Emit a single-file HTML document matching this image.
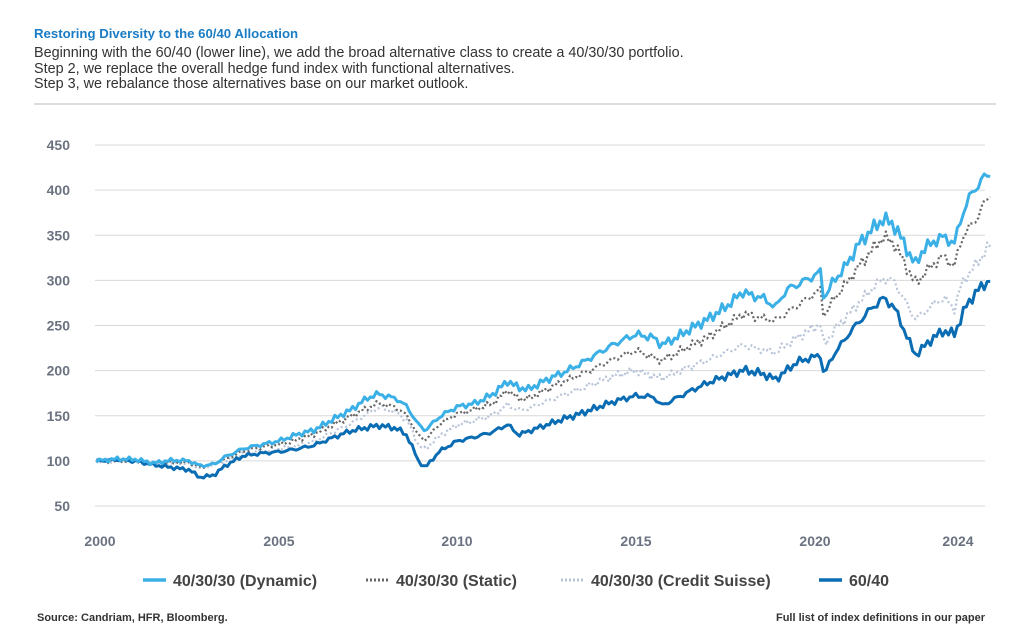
<!DOCTYPE html>
<html><head><meta charset="utf-8"><style>
body{margin:0;background:#fff;width:1024px;height:628px;overflow:hidden;font-family:"Liberation Sans",sans-serif}
</style></head><body>
<svg width="1024" height="628" xmlns="http://www.w3.org/2000/svg" font-family="Liberation Sans, sans-serif">
<text x="34" y="38" font-size="13.2" font-weight="bold" fill="#1a7cc4">Restoring Diversity to the 60/40 Allocation</text>
<text x="34" y="57" font-size="14.4" fill="#333">Beginning with the 60/40 (lower line), we add the broad alternative class to create a 40/30/30 portfolio.</text>
<text x="34" y="73" font-size="14.4" fill="#333">Step 2, we replace the overall hedge fund index with functional alternatives.</text>
<text x="34" y="88" font-size="14.4" fill="#333">Step 3, we rebalance those alternatives base on our market outlook.</text>
<line x1="34" y1="104" x2="996" y2="104" stroke="#bbb" stroke-width="1"/>
<g id="grid" stroke="#d9d9d9" stroke-width="1"></g>
<g id="ylab" font-size="14" font-weight="bold" fill="#6b7280" text-anchor="end"></g>
<g font-size="14" font-weight="bold" fill="#6b7280" text-anchor="middle">
<text x="100" y="546">2000</text><text x="279" y="546">2005</text><text x="457" y="546">2010</text><text x="636" y="546">2015</text><text x="815" y="546">2020</text><text x="958" y="546">2024</text>
</g>
<g id="series"></g>
<g font-size="16" font-weight="bold" fill="#444">
<line x1="143" y1="580" x2="166" y2="580" stroke="#3bb0e6" stroke-width="3.5"/><text x="173" y="586">40/30/30 (Dynamic)</text>
<line x1="366" y1="580" x2="389" y2="580" stroke="#666" stroke-width="3" stroke-dasharray="2,2"/><text x="396" y="586">40/30/30 (Static)</text>
<line x1="561" y1="580" x2="584" y2="580" stroke="#b8c4d8" stroke-width="3" stroke-dasharray="2,2"/><text x="591" y="586">40/30/30 (Credit Suisse)</text>
<line x1="819" y1="580" x2="842" y2="580" stroke="#0a6db3" stroke-width="3.5"/><text x="849" y="586">60/40</text>
</g>
<text x="37" y="621" font-size="11" font-weight="bold" fill="#333">Source: Candriam, HFR, Bloomberg.</text>
<text x="985" y="621" font-size="11" font-weight="bold" fill="#333" text-anchor="end">Full list of index definitions in our paper</text>
</svg>
<script>
var NS="http://www.w3.org/2000/svg";
function X(t){return 100+35.75*(t-2000);}
function Y(v){return 506-(v-50)*0.9025;}
var g=document.getElementById('grid'),yl=document.getElementById('ylab');
for(var v=50;v<=450;v+=50){var l=document.createElementNS(NS,'line');l.setAttribute('x1',95);l.setAttribute('x2',985);l.setAttribute('y1',Y(v));l.setAttribute('y2',Y(v));g.appendChild(l);
var t=document.createElementNS(NS,'text');t.setAttribute('x',70);t.setAttribute('y',Y(v)+5);t.textContent=v;yl.appendChild(t);}
var D=[[1999.9,100],[2000.5,103],[2001,102],[2001.5,97],[2002,100],[2002.5,100],[2002.8,95],[2003.2,97],[2003.5,105],[2004,113],[2004.5,117],[2005,122],[2005.5,130],[2006,135],[2006.5,145],[2007,155],[2007.5,170],[2007.8,175],[2008.3,170],[2008.6,160],[2008.9,140],[2009.1,133],[2009.5,148],[2010,160],[2010.5,165],[2011,175],[2011.4,188],[2011.7,180],[2012,178],[2012.5,190],[2013,200],[2013.5,210],[2014,220],[2014.5,230],[2015,240],[2015.5,238],[2015.7,230],[2016,235],[2016.5,245],[2017,255],[2017.5,270],[2018,290],[2018.2,285],[2018.5,283],[2018.9,270],[2019.2,288],[2019.5,293],[2020,305],[2020.15,310],[2020.25,280],[2020.5,300],[2020.9,320],[2021.2,340],[2021.6,355],[2021.9,365],[2022.2,360],[2022.5,340],[2022.8,318],[2023,335],[2023.3,345],[2023.6,350],[2023.9,340],[2024.1,370],[2024.4,395],[2024.7,410],[2024.9,418]];
var S=[[1999.9,100],[2001,101],[2001.5,97],[2002.5,98],[2002.8,93],[2003.5,102],[2004,110],[2005,118],[2006,130],[2007,148],[2007.8,165],[2008.3,160],[2008.6,150],[2008.9,128],[2009.1,122],[2009.5,140],[2010,152],[2011,165],[2011.4,178],[2011.7,168],[2012,168],[2013,190],[2014,205],[2015,222],[2015.7,213],[2016,218],[2017,235],[2018,265],[2018.9,255],[2019.5,270],[2020,285],[2020.15,290],[2020.25,260],[2020.5,280],[2021.2,315],[2021.9,345],[2022.2,340],[2022.8,298],[2023.3,320],[2023.6,328],[2023.9,315],[2024.1,345],[2024.5,365],[2024.9,395]];
var C=[[1999.9,100],[2001,100],[2001.5,96],[2002.5,97],[2002.8,92],[2003.5,100],[2004,107],[2005,113],[2006,122],[2007,140],[2007.8,160],[2008.3,155],[2008.6,145],[2008.9,118],[2009.1,112],[2009.5,127],[2010,140],[2011,152],[2011.4,162],[2011.7,155],[2012,157],[2013,175],[2014,188],[2015,200],[2015.7,193],[2016,197],[2017,210],[2018,230],[2018.9,220],[2019.5,235],[2020,248],[2020.15,252],[2020.25,228],[2020.5,245],[2021.2,275],[2021.9,300],[2022.2,298],[2022.8,258],[2023.3,275],[2023.6,282],[2023.9,268],[2024.1,295],[2024.5,315],[2024.9,338]];
var P=[[1999.9,100],[2000.5,102],[2001,100],[2001.5,95],[2002,92],[2002.5,90],[2002.8,82],[2003.2,85],[2003.5,95],[2004,105],[2005,110],[2006,118],[2007,132],[2007.8,140],[2008.3,137],[2008.6,128],[2008.9,100],[2009.1,92],[2009.5,110],[2010,122],[2011,133],[2011.4,140],[2011.7,128],[2012,132],[2013,148],[2014,160],[2015,172],[2015.5,172],[2015.7,162],[2016,168],[2017,185],[2018,202],[2018.5,198],[2018.9,190],[2019.5,208],[2020,215],[2020.15,218],[2020.25,195],[2020.5,218],[2021,245],[2021.5,265],[2021.9,278],[2022.2,270],[2022.8,218],[2023.3,238],[2023.6,245],[2023.9,240],[2024.2,268],[2024.5,285],[2024.9,300]];
function interp(d,t){for(var i=1;i<d.length;i++){if(t<=d[i][0]){var a=d[i-1],b=d[i];return a[1]+(b[1]-a[1])*(t-a[0])/(b[0]-a[0]);}}return d[d.length-1][1];}
function pts(d,seed){var s=[];for(var t=1999.9;t<=24.92+2000;t+=1/12){var v=interp(d,t)*(1+0.014*Math.sin(t*37.1+seed)+0.011*Math.sin(t*91.7+seed*2)+0.007*Math.sin(t*153.3));s.push(X(t).toFixed(1)+","+Y(v).toFixed(1));}return s.join(" ");}
var ser=document.getElementById('series');
function add(d,col,w,dash,seed){var p=document.createElementNS(NS,'polyline');p.setAttribute('points',pts(d,seed));p.setAttribute('fill','none');p.setAttribute('stroke',col);p.setAttribute('stroke-width',w);p.setAttribute('stroke-linejoin','round');if(dash)p.setAttribute('stroke-dasharray',dash);ser.appendChild(p);}
add(C,'#b8c4d8',2.2,'2,2.5',3);
add(S,'#666',2.2,'2,2.5',1);
add(P,'#0a6db3',3,null,2);
add(D,'#3bb0e6',3,null,1);
</script>
</body></html>
